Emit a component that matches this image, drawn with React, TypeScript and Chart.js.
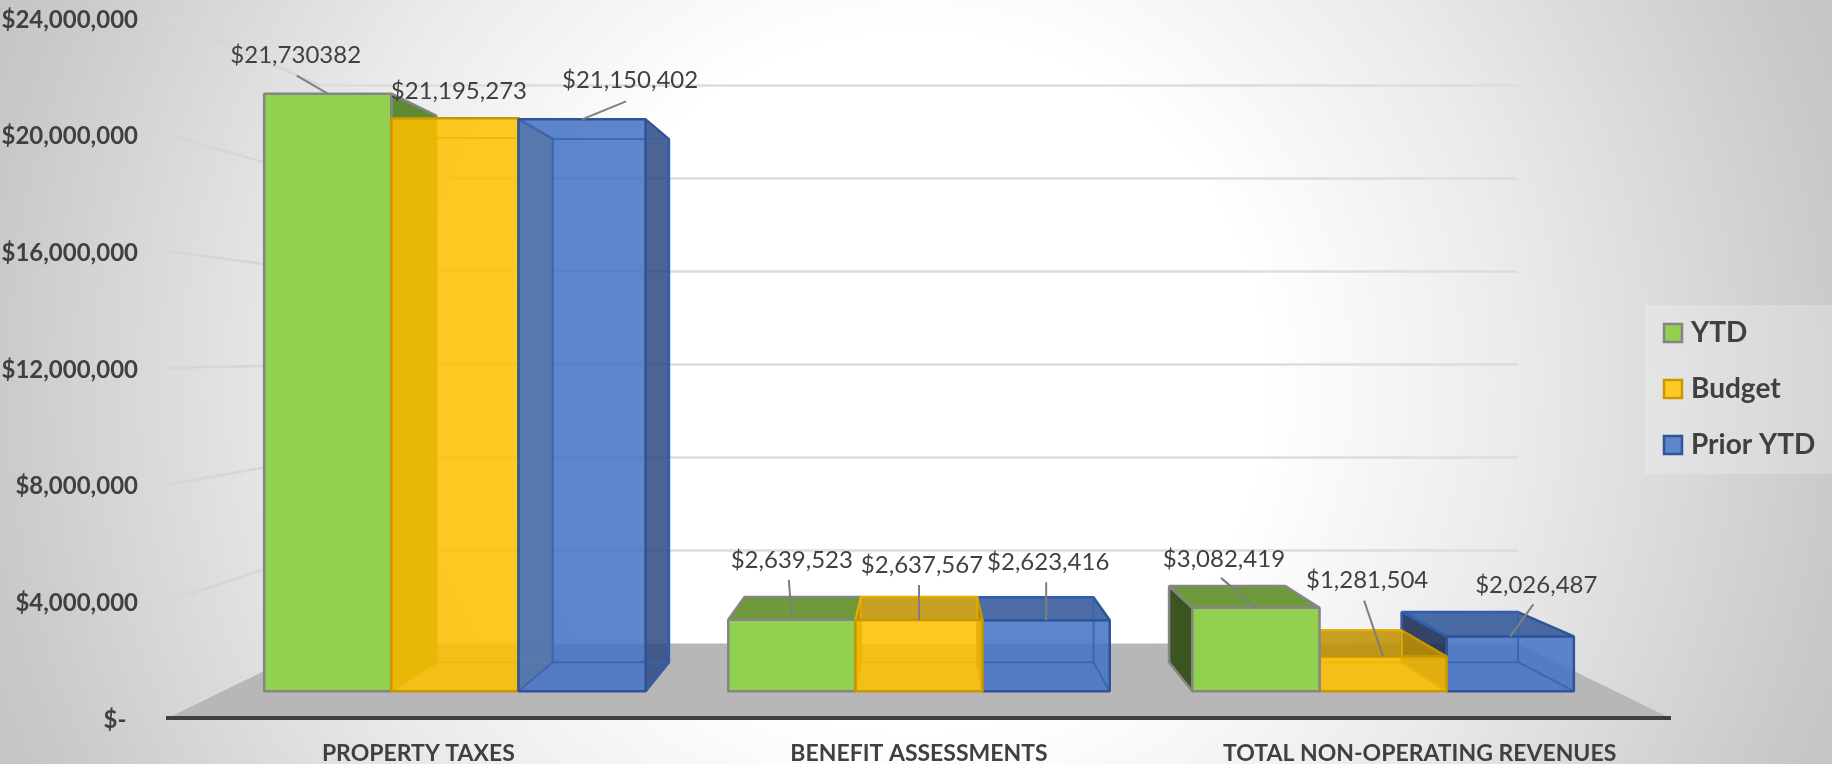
import React, { useEffect, useRef } from "react";
import { Chart, registerables } from "chart.js";

Chart.register(...registerables);

// ---- data ----
const categories = ["PROPERTY TAXES", "BENEFIT ASSESSMENTS", "TOTAL NON-OPERATING REVENUES"];
const ytdValues = [22100000, 2639523, 3082419];
const budgetValues = [21195273, 2637567, 1281504];
const priorValues = [21150402, 2623416, 2026487];
const ytdLabels = ["$21,730382", "$2,639,523", "$3,082,419"];
const budgetLabels = ["$21,195,273", "$2,637,567", "$1,281,504"];
const priorLabels = ["$21,150,402", "$2,623,416", "$2,026,487"];

// ---- layout / style ----
const W = 1832;
const H = 764;
const VP = { x: 919, y: 351 };
const DEPTH_BAR_FRONT = 0.927;
const DEPTH_BAR_BACK = 0.848;
const DEPTH_WALL = 0.797;
const FONT = "Lato, 'Open Sans', sans-serif";
const TEXT = "#404040";

type Off = { t: [number, number]; l: [number, number] | null };
const labelLayout: Off[][] = [
  [
    { t: [-32, -38], l: [-31, -18] },
    { t: [0, -60], l: [-3, -40] },
    { t: [-32, -49], l: [-35, -30] },
  ],
  [
    { t: [4, -27], l: null },
    { t: [3, -55], l: [0, -35] },
    { t: [-16, -76], l: [-19, -56] },
  ],
  [
    { t: [48, -39], l: [44, -18] },
    { t: [2, -58], l: [0, -38] },
    { t: [26, -51], l: [23, -32] },
  ],
];

const seriesStyle = [
  {
    front: "#92D050",
    top: "#6f9a3b",
    right: "#5d8a32",
    left: "#3b5520",
    edge: "#858585",
    inner: null as string | null,
  },
  {
    front: "rgba(255,192,0,0.86)",
    top: "rgba(191,144,0,0.86)",
    right: "rgba(191,144,0,0.86)",
    left: "rgba(130,95,0,0.86)",
    edge: "#c99700",
    inner: "rgba(240,180,0,0.75)",
  },
  {
    front: "rgba(68,114,196,0.86)",
    top: "rgba(47,85,151,0.86)",
    right: "rgba(47,75,130,0.86)",
    left: "rgba(20,40,80,0.86)",
    edge: "#2f5597",
    inner: "rgba(52,96,180,0.8)",
  },
];

const project = (x: number, y: number, d: number) => ({
  x: VP.x + d * (x - VP.x),
  y: VP.y + d * (y - VP.y),
});

function quad(ctx: CanvasRenderingContext2D, pts: { x: number; y: number }[], fill: string | null, stroke: string | null, lw = 2.5) {
  ctx.beginPath();
  pts.forEach((p, i) => (i ? ctx.lineTo(p.x, p.y) : ctx.moveTo(p.x, p.y)));
  ctx.closePath();
  if (fill) {
    ctx.fillStyle = fill;
    ctx.fill();
  }
  if (stroke) {
    ctx.strokeStyle = stroke;
    ctx.lineWidth = lw;
    ctx.lineJoin = "bevel";
    ctx.stroke();
  }
}

function line(ctx: CanvasRenderingContext2D, a: { x: number; y: number }, b: { x: number; y: number }, color: string, lw: number) {
  ctx.beginPath();
  ctx.moveTo(a.x, a.y);
  ctx.lineTo(b.x, b.y);
  ctx.strokeStyle = color;
  ctx.lineWidth = lw;
  ctx.stroke();
}

function drawBox(ctx: CanvasRenderingContext2D, el: any, s: (typeof seriesStyle)[number]) {
  const l = el.x - el.width / 2;
  const r = el.x + el.width / 2;
  const t = el.y;
  const b = el.base;
  const f = (x: number, y: number) => project(x, y, DEPTH_BAR_FRONT);
  const k = (x: number, y: number) => project(x, y, DEPTH_BAR_BACK);
  const fl = f(l, t).x;
  const fr = f(r, t).x;
  // outer side that faces the vanishing point
  if (fl > VP.x) quad(ctx, [f(l, t), k(l, t), k(l, b), f(l, b)], s.left, s.edge);
  if (fr < VP.x) quad(ctx, [f(r, t), k(r, t), k(r, b), f(r, b)], s.right, s.edge);
  // top: only seen from above when it lies below the eye line
  if (t > VP.y) quad(ctx, [f(l, t), f(r, t), k(r, t), k(l, t)], s.top, s.edge);
  // front
  quad(ctx, [f(l, t), f(r, t), f(r, b), f(l, b)], s.front, null);
  // inner edges seen through the translucent front
  if (s.inner) {
    const c = s.inner;
    quad(ctx, [k(l, t), k(r, t), k(r, b), k(l, b)], null, c, 2);
    line(ctx, f(l, b), k(l, b), c, 2);
    line(ctx, f(r, b), k(r, b), c, 2);
    line(ctx, f(l, t), k(l, t), c, 2);
  }
  quad(ctx, [f(l, t), f(r, t), f(r, b), f(l, b)], null, s.edge);
}

const scene3d = {
  id: "scene3d",
  beforeDraw(chart: any) {
    const { ctx, chartArea: ca, scales } = chart;
    ctx.save();
    // background: radial gradient
    const g = ctx.createRadialGradient(916, 382, 0, 916, 382, 1000);
    g.addColorStop(0, "#ffffff");
    g.addColorStop(0.35, "#ffffff");
    g.addColorStop(0.6, "#ebebeb");
    g.addColorStop(0.93, "#c9c9c9");
    g.addColorStop(1, "#c4c4c4");
    ctx.fillStyle = g;
    ctx.fillRect(0, 0, W, H);
    // floor
    const y0 = scales.y.getPixelForValue(0);
    const bl = project(ca.left, y0, DEPTH_WALL);
    const br = project(ca.right, y0, DEPTH_WALL);
    quad(ctx, [{ x: ca.left, y: y0 }, bl, br, { x: ca.right, y: y0 }], "#b7b7b7", null);
    // wall gridlines from the library's ticks
    for (const t of scales.y.ticks) {
      if (t.value === 0) continue;
      const y = scales.y.getPixelForValue(t.value);
      const a = project(ca.left, y, DEPTH_WALL);
      const b = project(ca.right, y, DEPTH_WALL);
      line(ctx, { x: ca.left, y }, a, "#d6d6d6", 2.5);
      line(ctx, a, b, "#dddddd", 2.5);
    }
    ctx.restore();
  },
  beforeDatasetsDraw(chart: any) {
    const { ctx } = chart;
    ctx.save();
    const items: { el: any; ds: number; dist: number }[] = [];
    chart.data.datasets.forEach((_: any, ds: number) => {
      chart.getDatasetMeta(ds).data.forEach((el: any) => {
        items.push({ el, ds, dist: Math.abs(el.x - VP.x) });
      });
    });
    items.sort((a, b) => b.dist - a.dist);
    for (const it of items) drawBox(ctx, it.el, seriesStyle[it.ds]);
    ctx.restore();
    return false; // the boxes above replace the flat bars
  },
  afterDraw(chart: any) {
    const { ctx } = chart;
    ctx.save();
    // data labels with leader lines
    ctx.font = `24px ${FONT}`;
    ctx.textAlign = "center";
    ctx.textBaseline = "middle";
    chart.data.datasets.forEach((d: any, ds: number) => {
      chart.getDatasetMeta(ds).data.forEach((el: any, i: number) => {
        const a = project(el.x, el.y, DEPTH_BAR_FRONT);
        const o = labelLayout[ds][i];
        if (o.l) line(ctx, { x: a.x + o.l[0], y: a.y + o.l[1] }, a, "#7f7f7f", 2);
        ctx.fillStyle = TEXT;
        ctx.fillText(d.pointLabels[i], a.x + o.t[0], a.y + o.t[1]);
      });
    });
    // legend panel
    ctx.fillStyle = "rgba(255,255,255,0.22)";
    ctx.fillRect(1645, 305, W - 1645, 169);
    ctx.font = `bold 28px ${FONT}`;
    ctx.textAlign = "left";
    chart.data.datasets.forEach((d: any, ds: number) => {
      const cy = 333 + ds * 56;
      const s = seriesStyle[ds];
      ctx.fillStyle = "#fff";
      ctx.fillRect(1664, cy - 9, 18, 18);
      ctx.fillStyle = s.front;
      ctx.fillRect(1664, cy - 9, 18, 18);
      ctx.strokeStyle = s.edge;
      ctx.lineWidth = 2.5;
      ctx.strokeRect(1664, cy - 9, 18, 18);
      ctx.fillStyle = TEXT;
      ctx.fillText(d.label, 1691, cy);
    });
    ctx.restore();
  },
};

export default function App() {
  const ref = useRef<HTMLCanvasElement>(null);
  useEffect(() => {
    const chart = new Chart(ref.current as HTMLCanvasElement, {
      type: "bar",
      data: {
        labels: categories,
        datasets: [
          { label: "YTD", data: ytdValues, pointLabels: ytdLabels, backgroundColor: "#92D050", borderColor: "#858585" } as any,
          { label: "Budget", data: budgetValues, pointLabels: budgetLabels, backgroundColor: "#FFC000", borderColor: "#c99700" } as any,
          { label: "Prior YTD", data: priorValues, pointLabels: priorLabels, backgroundColor: "#4472C4", borderColor: "#2f5597" } as any,
        ],
      },
      options: {
        responsive: false,
        animation: false,
        devicePixelRatio: 1,
        layout: { padding: { top: 18, right: W - 1670, left: 0, bottom: 0 } },
        datasets: { bar: { categoryPercentage: 0.822, barPercentage: 1 } },
        plugins: { legend: { display: false }, tooltip: { enabled: false }, title: { display: false } },
        scales: {
          x: {
            grid: { display: false },
            border: { display: true, color: "#404040", width: 4 },
            ticks: {
              color: TEXT,
              font: { family: FONT, size: 23, weight: "bold" },
              autoSkip: false,
              maxRotation: 0,
              minRotation: 0,
              padding: 14,
            },
            afterFit: (s: any) => {
              s.height = H - 718;
              s.paddingLeft = 0;
              s.paddingRight = 0;
            },
          },
          y: {
            min: 0,
            max: 24000000,
            grid: { display: false, drawTicks: false },
            border: { display: false },
            ticks: {
              stepSize: 4000000,
              color: TEXT,
              padding: 30,
              labelOffset: 2,
              font: { family: FONT, size: 24, weight: "bold" },
              callback: (v: any) => (v === 0 ? "$-  " : "$" + Number(v).toLocaleString("en-US")),
            },
            afterFit: (s: any) => {
              s.width = 168;
              s.paddingTop = 0;
              s.paddingBottom = 0;
            },
          },
        },
      } as any,
      plugins: [scene3d as any],
    });
    return () => chart.destroy();
  }, []);
  return (
    <div style={{ position: "fixed", left: 0, top: 0, width: W, height: H }}>
      <canvas ref={ref} width={W} height={H} style={{ display: "block", width: W, height: H }} />
    </div>
  );
}
